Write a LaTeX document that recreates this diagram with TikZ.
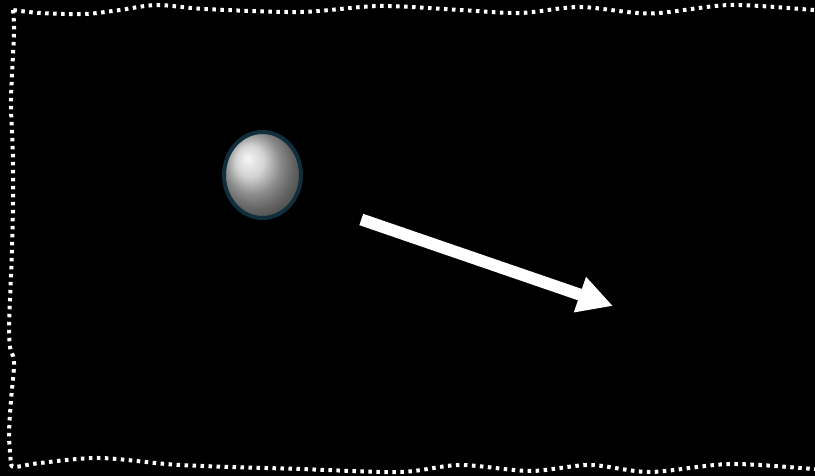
\documentclass[tikz,border=0pt]{standalone}
\usepackage{xcolor}
\usepackage{tikz}
\usetikzlibrary{shapes.geometric, arrows.meta, positioning, calc}
\definecolor{rimColor}{RGB}{16, 46, 60}
\definecolor{sceneColor}{RGB}{0, 0, 0}

\begin{document}
\begin{tikzpicture}[
    x=1pt, y=-1pt,
    frame/.style={draw=white, line width=4pt, dash pattern=on 3.5pt off 4.5pt},
    ball/.style={ellipse, draw=rimColor, line width=4pt, shading=ball, ball color=gray!45, minimum width=77pt, minimum height=86pt, inner sep=0pt},
    line/.style={draw=white, line width=12pt, -{Triangle[length=35pt, width=35pt]}}
]

% Background
\fill[sceneColor] (0,0) rectangle (815,476);
\useasboundingbox (0,0) rectangle (815,476);

% Frame
\draw[frame] plot[smooth] coordinates {(830,10) (815,10) (730,5) (650,13.5) (580,7) (520,13) (460,10) (380,6) (300,12) (205,9) (157,5) (120,10) (85,14) (40,13) (13,10)};
\draw[frame] plot[smooth] coordinates {(13,10) (14,33) (11,100) (12.7,150) (13,200) (12,250) (10,300) (9,327) (10,347) (13,356) (14,367) (11,400) (9,433) (10,452) (11,464)};
\draw[frame] plot[smooth] coordinates {(11,464) (15,467) (40,463) (100,458) (180,465) (300,469) (400,472) (460,465) (530,471) (590,465) (650,472) (730,464) (815,469) (830,469)};

% Nodes
\node (ball) [ball] at (262.5,175) {};
\coordinate (push) at (361.3,219.5);
\coordinate (target) at (613,306);

% Connectors
\path [line] (push) -- (target);

\end{tikzpicture}
\end{document}
